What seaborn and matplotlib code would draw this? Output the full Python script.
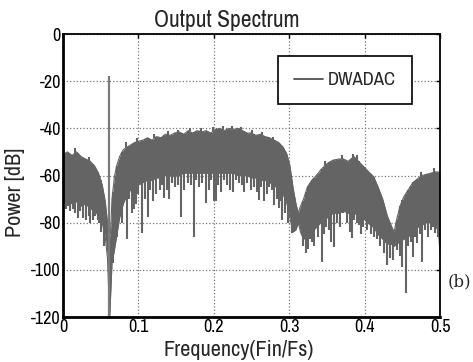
import numpy as np
import matplotlib
matplotlib.use("Agg")
import matplotlib.pyplot as plt
from matplotlib import font_manager
from matplotlib.lines import Line2D
import seaborn as sns
import pandas as pd

# ---- data ----
freq = [0.000, 0.006, 0.012, 0.018, 0.024, 0.030, 0.036, 0.042, 0.047, 0.052,
        0.056, 0.059, 0.061, 0.062, 0.063, 0.065, 0.068, 0.071, 0.075, 0.080,
        0.085, 0.090, 0.095, 0.100, 0.106, 0.112, 0.118, 0.124, 0.130, 0.136,
        0.142, 0.148, 0.154, 0.160, 0.166, 0.172, 0.178, 0.184, 0.190, 0.196,
        0.202, 0.208, 0.214, 0.220, 0.226, 0.232, 0.238, 0.244, 0.250, 0.256,
        0.262, 0.268, 0.274, 0.280, 0.286, 0.292, 0.297, 0.301, 0.305, 0.309,
        0.312, 0.315, 0.319, 0.324, 0.330, 0.336, 0.342, 0.350, 0.358, 0.366,
        0.372, 0.378, 0.386, 0.392, 0.398, 0.404, 0.412, 0.418, 0.424, 0.430,
        0.435, 0.439, 0.443, 0.447, 0.452, 0.458, 0.464, 0.470, 0.476, 0.482,
        0.488, 0.494, 0.498, 0.500]
upper_db = [-51, -50, -51.5, -50, -52, -53, -54, -56, -59, -64,
            -71, -80, -84, -86, -84, -70, -61, -56, -52, -49,
            -48, -47, -46, -45.5, -45, -44, -45, -43.5, -44, -42.5,
            -43, -42, -41.5, -42.5, -41, -42, -41, -41.5, -41, -42,
            -40.5, -40, -41, -40, -40.5, -40, -41, -42, -42, -43,
            -42.5, -43.5, -44, -45, -46, -48, -51, -56, -65, -72,
            -76, -73, -70, -65, -62, -60, -57.5, -55, -53.5, -53,
            -53, -54, -52, -54, -56, -58, -60.5, -65, -70, -77,
            -81, -84, -78, -73, -69, -66, -63, -61.5, -60, -59.5,
            -59, -58.5, -58.5, -59]
core_db = [-70, -71, -72, -71, -73, -72, -74, -75, -77, -80,
           -86, -95, -112, -120, -112, -97, -92, -86, -78, -72,
           -68, -66, -65, -64, -63, -62, -62, -61, -61, -60,
           -60, -60, -60, -59, -59, -59, -59, -59, -59, -59,
           -59, -59, -59, -59, -59, -60, -60, -60, -61, -61,
           -62, -62, -63, -64, -66, -68, -72, -78, -84, -83,
           -80, -84, -87, -86, -84, -82, -80, -78, -76, -76,
           -75, -76, -76, -77, -78, -80, -82, -85, -87, -89,
           -89, -90, -89, -88, -87, -86, -84, -82, -81, -80,
           -80, -81, -84, -93]
# downward notches (frequency, bottom in dB)
spike_freq = [0.004, 0.009, 0.016, 0.020, 0.027, 0.031, 0.036, 0.040, 0.046, 0.050,
              0.055, 0.066, 0.071, 0.078, 0.0845, 0.091, 0.097, 0.105, 0.113, 0.119,
              0.128, 0.134, 0.144, 0.148, 0.157, 0.166, 0.174, 0.181, 0.190, 0.196,
              0.200, 0.2025, 0.210, 0.218, 0.226, 0.233, 0.240, 0.249, 0.260, 0.266,
              0.273, 0.280, 0.2865, 0.291, 0.295, 0.304, 0.322, 0.3276, 0.333, 0.343,
              0.349, 0.360, 0.367, 0.372, 0.383, 0.3895, 0.395, 0.4005, 0.4036, 0.417,
              0.430, 0.4425, 0.450, 0.4545, 0.4646, 0.470, 0.4765, 0.4877, 0.494,
              0.002, 0.007, 0.013, 0.023, 0.034, 0.043, 0.048,
              0.088, 0.094, 0.100, 0.109, 0.116, 0.123, 0.131, 0.138, 0.141, 0.152,
              0.161, 0.170, 0.177, 0.185, 0.193, 0.206, 0.214, 0.222, 0.229, 0.237,
              0.244, 0.253, 0.257, 0.263, 0.270, 0.277, 0.284, 0.289, 0.299,
              0.318, 0.325, 0.330, 0.338, 0.346, 0.353, 0.356, 0.364, 0.376, 0.380,
              0.386, 0.392, 0.398, 0.408, 0.412, 0.421, 0.426, 0.434, 0.438, 0.447,
              0.458, 0.461, 0.467, 0.473, 0.480, 0.484, 0.491, 0.497]
spike_db = [-74, -75, -76, -78, -78, -79, -80, -79, -79, -84,
            -90, -97, -86, -80, -87, -76, -72, -84.5, -77.5, -71,
            -66, -69.6, -63, -65, -77.5, -63, -86, -65, -71.7, -62,
            -71, -71, -67, -64, -67, -63, -67, -66, -70.4, -71,
            -64.7, -72.5, -73.8, -78.8, -76, -84.5, -93, -87, -90, -96.5,
            -81.7, -90.5, -81.7, -76, -86.6, -80, -85, -79, -83, -87,
            -98, -91.5, -98.6, -110, -94.4, -88.5, -96.5, -83, -84.5,
            -72, -73, -74, -75, -77, -77, -80,
            -70, -74, -68, -70, -66, -68, -64, -66, -70, -64,
            -66, -64, -62, -63, -66, -64, -62, -66, -62, -64,
            -63, -65, -67, -65, -68, -66, -70, -71, -80,
            -90, -91, -88, -86, -85, -83, -88, -80, -80, -84,
            -79, -81, -82, -85, -86, -90, -93, -95, -96, -94,
            -90, -88, -86, -85, -83, -86, -82, -86]
# small upward peaks on the top edge (frequency, top in dB)
peak_freq = [0.016, 0.035, 0.083, 0.098, 0.121, 0.139, 0.152, 0.168, 0.183, 0.199,
             0.212, 0.224, 0.236, 0.250, 0.264, 0.279, 0.347, 0.370, 0.384, 0.390,
             0.475, 0.492]
peak_db = [-48.5, -52, -46, -44, -42.5, -41, -40.5, -40, -40, -39.5,
           -39, -39, -39.5, -40.5, -41.5, -43.5, -54, -51.5, -51, -51.5,
           -58.5, -57]
tone_freq = 0.0615
tone_db = -18.0

x_ticks = [0, 0.1, 0.2, 0.3, 0.4, 0.5]
x_tick_labels = ["0", "0.1", "0.2", "0.3", "0.4", "0.5"]
y_ticks = [0, -20, -40, -60, -80, -100, -120]
y_tick_labels = ["0", "-20", "-40", "-60", "-80", "-100", "-120"]
series_name = "DWADAC"
title = "Output Spectrum"
x_label = "Frequency(Fin/Fs)"
y_label = "Power [dB]"

# ---- style ----
sns.set_style("white")

family, stretch, condensed = "DejaVu Sans", "normal", False
for fe in font_manager.fontManager.ttflist:
    nm = fe.name
    if ("Narrow" in nm or "Condensed" in nm) and "Serif" not in nm and "Mono" not in nm:
        family, stretch, condensed = nm, "normal", True
        break
if not condensed:
    for fe in font_manager.fontManager.ttflist:
        if fe.name == "DejaVu Sans" and str(fe.stretch) in ("condensed", "semi-condensed", "75", "87.5"):
            family, stretch, condensed = "DejaVu Sans", "condensed", True
            break

plt.rcParams['font.family'] = [family, 'DejaVu Sans']
plt.rcParams['font.stretch'] = stretch
scale = 1.0 if condensed else 0.84

col = "#646464"
fig = plt.figure(figsize=(4.73, 3.62), dpi=100)
ax = fig.add_axes([63 / 473, 1 - 317 / 362, 377 / 473, 283 / 362])

df = pd.DataFrame({"freq": freq, "upper": upper_db, "core": core_db})
ax.fill_between(df["freq"], df["core"], df["upper"], color=col, lw=0, zorder=2)
sns.lineplot(data=df, x="freq", y="upper", ax=ax, color=col, lw=0.8, legend=False, zorder=2)
sns.lineplot(data=df, x="freq", y="core", ax=ax, color=col, lw=0.8, legend=False, zorder=2)
tops = np.interp(spike_freq, freq, upper_db)
ax.vlines(spike_freq, spike_db, tops, color=col, lw=1.5, zorder=2)
bases = np.interp(peak_freq, freq, upper_db)
ax.vlines(peak_freq, bases, peak_db, color=col, lw=1.5, zorder=2)
ax.vlines([tone_freq], [-120], [tone_db], color="#7a7a7a", lw=1.6, zorder=2)

ax.set_xlim(0, 0.5)
ax.set_ylim(-120, 0)
ax.set_xticks(x_ticks)
ax.set_xticklabels(x_tick_labels)
ax.set_yticks(y_ticks)
ax.set_yticklabels(y_tick_labels)
ax.grid(True, linestyle=":", color="#777777", lw=0.9)
ax.set_axisbelow(True)
ax.tick_params(direction="in", length=3, width=1, top=True, right=True,
               labelsize=13 * scale, pad=1.5, colors="black")
for s in ["left", "bottom"]:
    ax.spines[s].set_linewidth(2.0)
for s in ["top", "right"]:
    ax.spines[s].set_linewidth(1.3)
for s in ax.spines.values():
    s.set_color("black")

ax.set_title(title, fontsize=17 * scale, pad=5, x=0.435)
ax.set_xlabel(x_label, fontsize=16 * scale)
ax.set_ylabel(y_label, fontsize=16 * scale)
ax.xaxis.set_label_coords(0.466, -0.08)
ax.yaxis.set_label_coords(-0.10, 0.442)

handle = Line2D([], [], color="#505050", lw=1.3)
ax.legend([handle], [series_name], loc="upper right", bbox_to_anchor=(0.926, 0.922),
          frameon=True, fancybox=False, edgecolor="black", framealpha=1,
          fontsize=13.5 * scale, handlelength=1.5, handletextpad=0.3,
          borderpad=0.85 / scale, borderaxespad=0)
ax.get_legend().get_frame().set_linewidth(1.2)

fig.text(448 / 473, 1 - 282 / 362, "(b)", fontsize=12, family="DejaVu Serif",
         ha="left", va="center")

fig.savefig("out.png", dpi=100)
